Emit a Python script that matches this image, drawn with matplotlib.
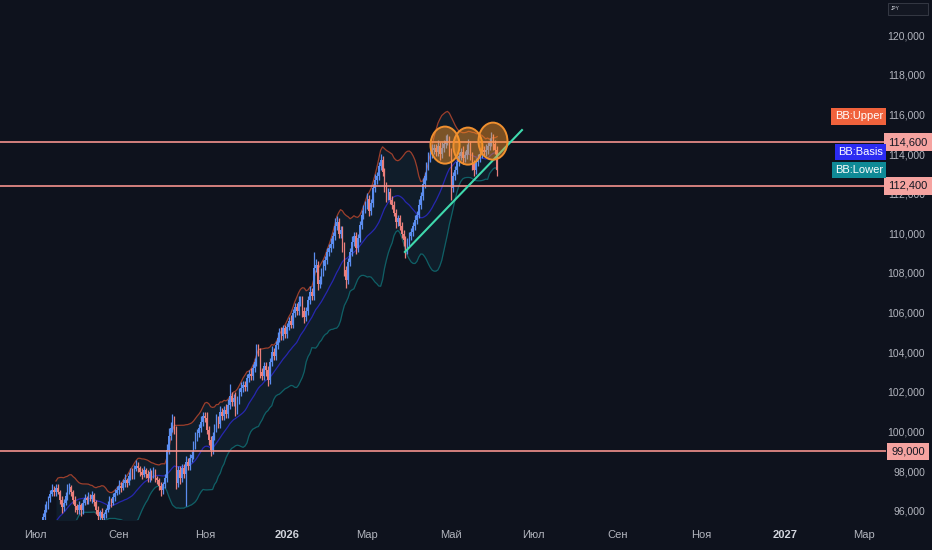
import numpy as np
import pandas as pd
import matplotlib
matplotlib.use('Agg')
import matplotlib.pyplot as plt
from matplotlib.patches import Ellipse, Rectangle
import matplotlib.transforms as mtransforms

plt.rcParams['font.family'] = ['Liberation Sans', 'DejaVu Sans']

# ----------------------------------------------------------------------------
# Data (daily closes, thousands of JPY), first bar 2025-06-19
# ----------------------------------------------------------------------------
start_date = '2025-06-19'

closes = [
    94.2, 94.0, 94.4, 94.3, 94.7, 94.5, 94.9, 95.0, 94.8, 95.2,
    95.1, 95.4, 95.7, 96.05, 96.3, 96.65, 96.85, 97.05, 96.95, 97.15,
    96.95, 96.55, 96.2, 96.4, 96.75, 97.05, 97.2, 96.95, 96.55, 96.25,
    96.05, 96.3, 96.05, 96.4, 96.65, 96.55, 96.75, 96.6, 96.8, 96.45,
    96.05, 95.75, 95.95, 95.65, 95.85, 96.05, 96.3, 96.55, 96.4, 96.7,
    96.9, 97.05, 97.25, 97.15, 97.4, 97.55, 97.4, 97.75, 97.95, 97.8,
    98.1, 98.25, 98.15, 97.95, 97.8, 98.05, 97.85, 97.65, 97.95, 97.75,
    98.0, 97.65, 97.55, 97.25, 97.05, 97.35, 97.65, 99.05, 99.8, 100.2,
    100.5, 100.1, 97.4, 98.05, 97.65, 98.15, 97.85, 98.45, 98.25, 98.65,
    98.8, 99.3, 99.7, 99.95, 100.2, 100.5, 100.8, 100.7, 100.1, 99.6,
    99.05, 99.8, 100.2, 100.6, 100.4, 101.0, 100.8, 101.1, 100.9, 101.35,
    101.8, 101.5, 101.7, 101.1, 101.6, 102.0, 102.2, 102.35, 102.25, 102.7,
    102.9, 102.8, 103.2, 103.5, 104.1, 104.0, 103.0, 102.8, 103.3, 103.1,
    102.6, 103.5, 104.0, 103.8, 104.35, 104.7, 105.0, 104.8, 105.2, 104.9,
    105.3, 105.6, 105.4, 106.0, 106.3, 106.1, 106.55, 106.65, 106.1, 105.8,
    106.1, 106.65, 107.05, 106.85, 108.25, 108.4, 107.45, 107.65, 108.05, 108.35,
    108.65, 109.05, 109.25, 109.45, 109.85, 110.35, 110.55, 109.95, 110.15, 109.35,
    108.15, 107.65, 108.55, 109.05, 109.55, 109.85, 109.25, 109.75, 110.4, 110.9,
    111.25, 111.45, 111.75, 111.15, 111.55, 112.3, 112.7, 112.9, 113.4, 113.7,
    113.1, 112.4, 111.9, 112.1, 111.7, 111.45, 111.05, 110.55, 110.75, 110.35,
    109.95, 109.65, 109.15, 109.55, 109.85, 110.05, 110.35, 110.65, 110.95, 111.45,
    111.9, 112.5, 112.9, 113.4, 113.8, 114.0, 114.2, 114.3, 114.1, 114.4,
    114.0, 114.3, 114.5, 114.65, 114.7, 114.1, 112.3, 112.9, 113.2, 113.6,
    113.9, 114.1, 113.8, 113.95, 114.2, 114.45, 113.9, 113.5, 113.2, 113.6,
    113.8, 114.0, 114.2, 114.1, 114.2, 114.4, 114.6, 114.8, 114.5, 114.2,
    113.2,
]

# wick lengths above / below the body, in units of 100 JPY
up_wick = [
    1, 2, 1, 1, 2, 1, 2, 1, 1, 1, 1, 1, 2, 3, 2, 1, 2, 3, 2, 2,
    2, 1, 2, 2, 2, 3, 2, 1, 1, 2, 1, 2, 1, 2, 2, 1, 2, 1, 2, 1,
    1, 2, 1, 2, 1, 1, 2, 2, 1, 2, 2, 2, 3, 2, 2, 3, 1, 2, 2, 2,
    2, 3, 2, 1, 2, 2, 1, 2, 2, 1, 2, 1, 1, 1, 2, 1, 2, 3, 4, 3,
    4, 3, 2, 2, 2, 2, 2, 3, 2, 2, 2, 2, 3, 2, 2, 3, 2, 2, 3, 2,
    2, 2, 2, 3, 2, 3, 2, 2, 3, 3, 6, 2, 2, 3, 2, 2, 3, 2, 2, 2,
    2, 3, 2, 2, 3, 3, 2, 2, 2, 2, 2, 2, 3, 2, 2, 3, 2, 3, 2, 2,
    2, 2, 3, 2, 2, 2, 3, 2, 2, 2, 2, 2, 3, 2, 8, 3, 2, 2, 2, 3,
    2, 2, 2, 3, 2, 4, 3, 2, 2, 2, 2, 2, 2, 2, 3, 2, 2, 2, 2, 3,
    2, 2, 3, 2, 2, 2, 3, 2, 2, 3, 2, 2, 2, 2, 2, 2, 2, 2, 2, 2,
    2, 2, 2, 2, 2, 2, 2, 3, 2, 3, 2, 3, 2, 2, 3, 2, 3, 2, 2, 3,
    2, 3, 2, 3, 3, 2, 2, 2, 2, 3, 2, 2, 3, 2, 3, 3, 2, 2, 2, 2,
    2, 3, 2, 2, 3, 2, 2, 3, 2, 2, 2,
]
down_wick = [
    1, 1, 2, 1, 1, 2, 1, 1, 2, 1, 1, 2, 3, 2, 1, 2, 2, 1, 2, 2,
    1, 2, 3, 2, 1, 2, 2, 2, 2, 3, 2, 2, 3, 2, 1, 2, 2, 1, 2, 2,
    2, 3, 2, 2, 2, 2, 1, 2, 2, 1, 2, 1, 2, 2, 1, 2, 2, 1, 2, 2,
    2, 1, 2, 2, 2, 1, 2, 2, 2, 2, 1, 2, 2, 2, 3, 2, 2, 2, 2, 2,
    2, 2, 3, 2, 3, 2, 2, 16, 2, 2, 2, 2, 2, 2, 2, 2, 2, 2, 2, 3,
    3, 2, 2, 2, 2, 2, 2, 2, 2, 2, 2, 2, 2, 3, 2, 2, 2, 2, 2, 2,
    2, 2, 2, 2, 2, 2, 3, 2, 2, 3, 3, 2, 2, 2, 2, 2, 2, 2, 2, 2,
    2, 2, 2, 2, 2, 2, 2, 2, 3, 3, 2, 2, 2, 2, 2, 2, 3, 2, 2, 2,
    2, 2, 2, 2, 2, 2, 2, 2, 2, 3, 3, 4, 2, 2, 2, 2, 3, 2, 2, 2,
    2, 2, 2, 3, 2, 2, 2, 2, 2, 2, 2, 3, 3, 2, 2, 2, 2, 3, 2, 2,
    2, 3, 4, 2, 2, 2, 2, 2, 2, 2, 2, 2, 2, 2, 2, 2, 2, 2, 2, 2,
    3, 2, 2, 2, 2, 2, 6, 2, 2, 2, 2, 2, 3, 2, 2, 2, 2, 3, 3, 2,
    2, 2, 2, 2, 2, 2, 2, 2, 3, 2, 3,
]

# drawings on the chart
level_prices = [114600, 112400, 99000]
trend_bars = [201.7, 263.0]
trend_prices = [109060, 115210]
circle_bars = [222.7, 234.7, 247.8]
circle_prices = [114450, 114400, 114650]

bb_tags = ['BB:Upper', 'BB:Basis', 'BB:Lower']
bb_tag_prices = [115900, 114100, 113200]
bb_tag_colors = ['#f0623c', '#2b2bf2', '#0f8a96']

ru_months = ['Янв', 'Фев', 'Мар', 'Апр', 'Май', 'Июн',
             'Июл', 'Авг', 'Сен', 'Окт', 'Ноя', 'Дек']

# ----------------------------------------------------------------------------
BG = '#0e121d'
UP = '#5b8def'
DOWN = '#ea7f7b'
LEVEL = '#f4928d'
TXT = '#b2b5be'

c = np.array(closes) * 1000
o = np.r_[c[0], c[:-1]]
hi = np.maximum(o, c) + np.array(up_wick) * 100
lo = np.minimum(o, c) - np.array(down_wick) * 100
n = len(c)
x = np.arange(n)

s = pd.Series(c)
basis = s.rolling(20).mean()
dev = s.rolling(20).std(ddof=0)
upper = basis + 2 * dev
lower = basis - 2 * dev

fig = plt.figure(figsize=(9.32, 5.5), dpi=100, facecolor=BG)
ax = fig.add_axes([0, 30 / 550, 886 / 932, 520 / 550], facecolor=BG)

# Bollinger bands
ax.fill_between(x, lower, upper, color='#2a7f9e', alpha=0.1, lw=0, zorder=1)
ax.plot(x, upper, color='#9c3f2c', lw=0.9, zorder=2)
ax.plot(x, basis, color='#2727b0', lw=0.9, zorder=2)
ax.plot(x, lower, color='#0f6066', lw=0.9, zorder=2)

# candles
cols = np.where(c >= o, UP, DOWN)
ax.vlines(x, lo, hi, colors=cols, lw=0.9, zorder=3)
ax.bar(x, np.maximum(np.abs(c - o), 25), bottom=np.minimum(o, c), width=0.8,
       color=cols, lw=0, zorder=3)

# horizontal levels
for p in level_prices:
    ax.axhline(p, color=LEVEL, lw=1.2, zorder=4)

# trend line and circles
ax.plot(trend_bars, trend_prices, color='#3fd9ad', lw=1.5, zorder=5)
for cb, cp in zip(circle_bars, circle_prices):
    ax.add_patch(Ellipse((cb, cp), 15.2, 1870, fc=(1.0, 0.6, 0.15, 0.45),
                         ec='#f0902f', lw=1.4, zorder=6))

ax.set_xlim(-10.3, 453.6)
ax.set_ylim(95540, 121770)

for sp in ax.spines.values():
    sp.set_visible(False)

# price scale
ticks = np.arange(96000, 120001, 2000)
ax.yaxis.tick_right()
ax.set_yticks(ticks)
ax.set_yticklabels([f'{v:,.0f}' for v in ticks])
ax.tick_params(axis='y', length=0, pad=28, labelsize=7.5, labelcolor=TXT)
for lbl in ax.get_yticklabels():
    lbl.set_horizontalalignment('right')

# time scale
all_dates = pd.bdate_range(start_date, '2027-03-31')
pos, labs, bold = [], [], []
seen = set()
for i, d in enumerate(all_dates):
    key = (d.year, d.month)
    if key in seen or d.month % 2 == 0 or d < pd.Timestamp('2025-07-01'):
        continue
    seen.add(key)
    pos.append(i)
    if d.month == 1:
        labs.append(str(d.year))
        bold.append(True)
    else:
        labs.append(ru_months[d.month - 1])
        bold.append(False)
ax.set_xticks(pos)
ax.set_xticklabels(labs)
ax.tick_params(axis='x', length=0, pad=7, labelsize=8, labelcolor=TXT)
for lbl, b in zip(ax.get_xticklabels(), bold):
    if b:
        lbl.set_fontweight('bold')
        lbl.set_color('#d1d4dc')

# level price tags on the scale
trans = mtransforms.blended_transform_factory(ax.transAxes, ax.transData)
for p in level_prices:
    ax.text(1.0 + 22 / 886, p, f'{p:,.0f}', transform=trans, ha='center', va='center',
            fontsize=8, color='#131722', clip_on=False, zorder=10,
            bbox=dict(boxstyle='square,pad=0.35', fc='#f5a3a0', ec='none'))

# indicator labels
for t, p, col in zip(bb_tags, bb_tag_prices, bb_tag_colors):
    ax.text(1.0 - 3 / 886, p, t, transform=trans, ha='right', va='center',
            fontsize=8, color='white', clip_on=False, zorder=10,
            bbox=dict(boxstyle='square,pad=0.3', fc=col, ec='none'))

# currency box
fig.patches.append(Rectangle((888 / 932, 1 - 15 / 550), 40 / 932, 12 / 550,
                             transform=fig.transFigure, fc='#131722',
                             ec='#3a3e4a', lw=0.6))
fig.text(891 / 932, 1 - 9 / 550, 'JPY', ha='left', va='center', fontsize=3.5,
         color='#d1d4dc')

fig.savefig('out.png', dpi=100, facecolor=BG)
